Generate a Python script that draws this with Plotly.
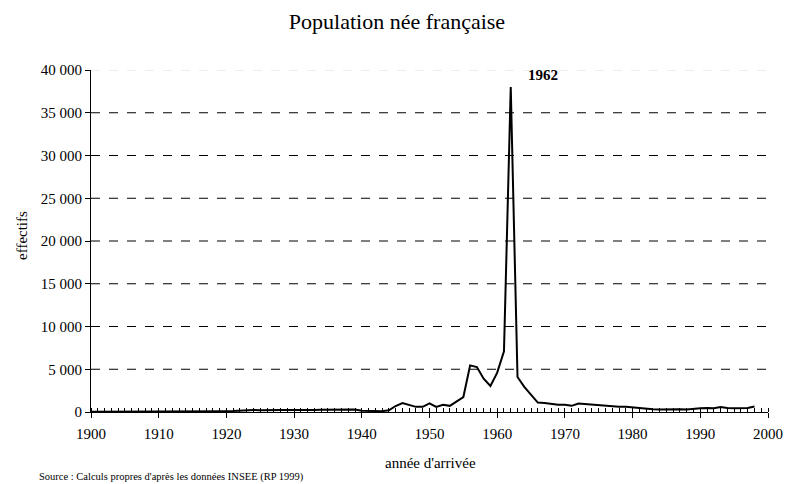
import plotly.graph_objects as go

years = list(range(1900, 1999))
values = [
    20, 20, 20, 30, 30, 30, 30, 40, 40, 40,
    50, 50, 60, 60, 60, 60, 60, 70, 80, 90,
    100, 120, 160, 220, 240, 200, 180, 160, 220, 240,
    260, 240, 220, 240, 250, 260, 330, 300, 290, 300,
    150, 150, 120, 100, 200, 700, 1050, 800, 600, 600,
    1000, 600, 850, 720, 1200, 1750, 5450, 5250, 3900, 3050,
    4600, 7100, 38000, 4100, 2950, 2000, 1100, 1050, 950, 850,
    850, 720, 1000, 920, 850, 800, 750, 600, 600, 600,
    520, 440, 380, 330, 300, 320, 380, 330, 300, 400,
    450, 480, 450, 580, 460, 430, 450, 480, 650,
]
y_ticks = [0, 5000, 10000, 15000, 20000, 25000, 30000, 35000, 40000]
y_labels = ["0", "5 000", "10 000", "15 000", "20 000", "25 000", "30 000", "35 000", "40 000"]
x_ticks = [1900, 1910, 1920, 1930, 1940, 1950, 1960, 1970, 1980, 1990, 2000]

FONT = "Liberation Serif"
W, H = 785, 484
L, R, T, B = 91, 768, 70, 412
PW, PH = R - L, B - T

fig = go.Figure()
fig.add_trace(go.Scatter(x=years, y=values, mode="lines",
                         line=dict(color="black", width=2), hoverinfo="x+y"))

shapes = []
for v in y_ticks[1:]:
    shapes.append(dict(type="line", xref="paper", x0=0, x1=1, yref="y", y0=v, y1=v,
                       line=dict(color="#dddddd" if v == y_ticks[-1] else "black",
                                 width=1, dash="dash"), layer="below"))

fig.update_layout(
    width=W, height=H,
    margin=dict(l=L, r=W - R, t=T, b=H - B, pad=0, autoexpand=False),
    plot_bgcolor="white", paper_bgcolor="white",
    showlegend=False,
    shapes=shapes,
    font=dict(family=FONT, color="black", size=15),
    title=dict(text="Population née française", x=397 / W, xanchor="center",
               y=1 - 21 / H, yanchor="middle", font=dict(size=22, family=FONT)),
    xaxis=dict(range=[1900, 2000], tickvals=x_ticks, ticks="outside", ticklen=5,
               tickcolor="black", showline=True, linecolor="black", linewidth=1,
               showgrid=False, zeroline=False, tickfont=dict(size=15, family=FONT),
               automargin=False, ticklabelstandoff=3,
               minor=dict(dtick=1, ticks="inside", ticklen=4, tickcolor="black",
                          showgrid=False)),
    yaxis=dict(range=[0, 40000], tickvals=y_ticks, ticktext=y_labels, ticks="outside",
               ticklen=5, tickcolor="black", showline=True, linecolor="black",
               linewidth=1, showgrid=False, zeroline=False, automargin=False,
               tickfont=dict(size=15, family=FONT)),
    annotations=[
        dict(text="<b>1962</b>", x=1962, y=38000, xref="x", yref="y", showarrow=False,
             xshift=32, yshift=12, font=dict(size=15, family=FONT)),
        dict(text="effectifs", xref="paper", yref="paper", x=(22 - L) / PW,
             y=(B - 236) / PH, showarrow=False, textangle=-90,
             font=dict(size=15, family=FONT), xanchor="center", yanchor="middle"),
        dict(text="année d'arrivée", xref="paper", yref="paper", x=(430 - L) / PW,
             y=-(463 - B) / PH, showarrow=False, font=dict(size=15, family=FONT),
             xanchor="center", yanchor="middle"),
        dict(text="Source : Calculs propres d'après les données INSEE (RP 1999)",
             xref="paper", yref="paper", x=(37 - L) / PW, y=-(477 - B) / PH,
             showarrow=False, font=dict(size=10.5, family=FONT),
             xanchor="left", yanchor="middle"),
    ],
)

fig.write_html("out.html", config={"displayModeBar": False},
               post_script="document.body.style.margin='0';")
